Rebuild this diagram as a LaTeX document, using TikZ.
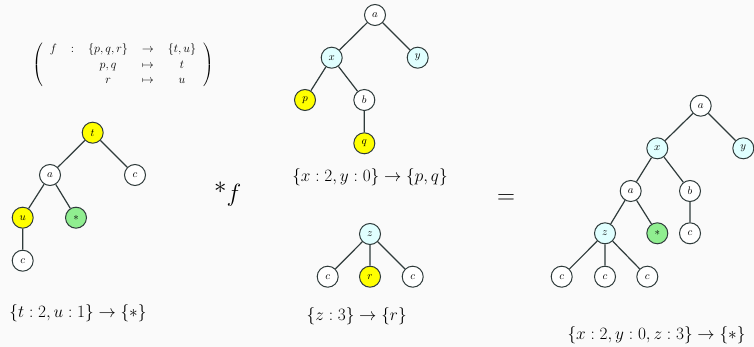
\documentclass[tikz,border=0pt]{standalone}
\usepackage{amsmath}
\definecolor{bg}{HTML}{FAFAFA}
\definecolor{edgec}{HTML}{2F3B3B}
\definecolor{ylw}{HTML}{FFFF00}
\definecolor{grn}{HTML}{90EE90}
\definecolor{cyn}{HTML}{E0FFFF}
\tikzset{
  tn/.style={circle, draw=edgec, line width=1pt, minimum size=21pt, inner sep=0pt, font=\fontsize{10.5}{12}\selectfont},
  wn/.style={tn, fill=white},
  yn/.style={tn, fill=ylw},
  gn/.style={tn, fill=grn},
  cn/.style={tn, fill=cyn},
  ed/.style={draw=edgec, line width=1.2pt},
  lab/.style={inner sep=0pt, font=\fontsize{18.5}{21}\selectfont},
}
\begin{document}
\begin{tikzpicture}[x=1pt,y=-1pt]
\fill[bg] (0,0) rectangle (754,347);
\useasboundingbox (0,0) rectangle (754,347);
% mapping
\node[inner sep=0pt, font=\fontsize{12.5}{15.5}\selectfont] (map) at (123,65) {\setlength{\arraycolsep}{7pt}$\left(\begin{array}{ccccc} f & : & \{p,q,r\} & \to & \{t,u\} \\ & & p,q & \mapsto & t \\ & & r & \mapsto & u \end{array}\right)$};
% left tree
\node[yn] (L1) at (92.7,132.7) {$t$};
\node[wn] (L2) at (50,175) {$a$};
\node[wn] (L3) at (135,175) {$c$};
\node[yn] (L4) at (22.7,217.7) {$u$};
\node[gn] (L5) at (76,217.7) {$*$};
\node[wn] (L6) at (22.7,260.7) {$c$};
\draw[ed] (L1)--(L2) (L1)--(L3) (L2)--(L4) (L2)--(L5) (L4)--(L6);
\node[lab] (Llab) at (78,313) {$\{t:2,u:1\}\to\{*\}$};
% star f
\node[inner sep=0pt] (star) at (228,194) {\fontsize{34}{38}\selectfont$*_{f}$};
% middle top tree
\node[wn] (M1) at (375,15) {$a$};
\node[cn] (M2) at (331.7,57.7) {$x$};
\node[cn] (M3) at (417.7,57.7) {$y$};
\node[yn] (M4) at (305,100) {$p$};
\node[wn] (M5) at (364.3,100) {$b$};
\node[yn] (M6) at (364.3,143.3) {$q$};
\draw[ed] (M1)--(M2) (M1)--(M3) (M2)--(M4) (M2)--(M5) (M5)--(M6);
\node[lab] (Mlab) at (370,176.7) {$\{x:2,y:0\}\to\{p,q\}$};
% middle bottom tree
\node[cn] (N1) at (370,234) {$z$};
\node[wn] (N2) at (327.7,276.7) {$c$};
\node[yn] (N3) at (370,276.7) {$r$};
\node[wn] (N4) at (412.7,276.7) {$c$};
\draw[ed] (N1)--(N2) (N1)--(N3) (N1)--(N4);
\node[lab] (Nlab) at (356.7,316) {$\{z:3\}\to\{r\}$};
% equals
\node[inner sep=0pt, font=\fontsize{24}{28}\selectfont] (eq) at (506,199.5) {$=$};
% right tree
\node[wn] (R1) at (700.7,105.7) {$a$};
\node[cn] (R2) at (657.3,148.3) {$x$};
\node[cn] (R3) at (743.3,148.3) {$y$};
\node[wn] (R4) at (630.7,191) {$a$};
\node[wn] (R5) at (690,191) {$b$};
\node[cn] (R6) at (605,233.3) {$z$};
\node[gn] (R7) at (657.3,233.3) {$*$};
\node[wn] (R8) at (690,233.3) {$c$};
\node[wn] (R9) at (561.7,276.7) {$c$};
\node[wn] (R10) at (605,276.7) {$c$};
\node[wn] (R11) at (647.3,276.7) {$c$};
\draw[ed] (R1)--(R2) (R1)--(R3) (R2)--(R4) (R2)--(R5) (R4)--(R6) (R4)--(R7) (R5)--(R8) (R6)--(R9) (R6)--(R10) (R6)--(R11);
\node[lab] (Rlab) at (656.5,335) {$\{x:2,y:0,z:3\}\to\{*\}$};
\end{tikzpicture}
\end{document}
